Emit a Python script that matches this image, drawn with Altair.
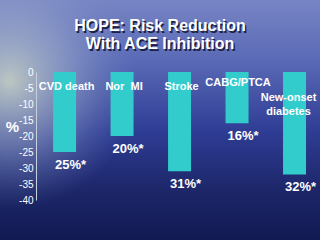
import altair as alt
import pandas as pd

categories = ["CVD death", "Nor\u00a0\u00a0MI", "Stroke", "CABG/PTCA", "New-onset diabetes"]
values = [-25, -20, -31, -16, -32]
value_labels = ["25%*", "20%*", "31%*", "16%*", "32%*"]
title_lines = ["HOPE: Risk Reduction", "With ACE Inhibition"]
y_ticks = [0, -5, -10, -15, -20, -25, -30, -35, -40]

df = pd.DataFrame({"cat": categories, "val": values, "lab": value_labels})
FONT = "Liberation Sans"

xscale = alt.Scale(domain=categories, paddingInner=0.6, paddingOuter=0.27, align=0.55)
X = alt.X("cat:N", scale=xscale, axis=None, sort=categories)
yscale = alt.Scale(domain=[-40, 0], nice=False)
yaxis = alt.Axis(values=y_ticks, labelExpr="toString(datum.value)",
                 labelOverlap=False, labelFlush=False, labelBound=False,
                 grid=False, ticks=False, zindex=1,
                 domainColor="#c8d0e0", domainWidth=1,
                 labelColor="white", labelFont=FONT, labelFontSize=10,
                 labelPadding=3,
                 title="%", titleAngle=0, titleColor="white",
                 titleFont=FONT, titleFontSize=15, titleFontWeight="bold",
                 titleX=-24, titleY=62, titleAlign="center")
Y = alt.Y("val:Q", scale=yscale, axis=yaxis)

base = alt.Chart(df)

bg = alt.Chart(pd.DataFrame({"k": [0]})).mark_rect(
    color=alt.Gradient(
        gradient="linear", x1=0, x2=0, y1=0, y2=1,
        stops=[alt.GradientStop(color="#7884c4", offset=0),
               alt.GradientStop(color="#5a6ab6", offset=0.25),
               alt.GradientStop(color="#2e3c94", offset=0.55),
               alt.GradientStop(color="#1c2668", offset=0.8),
               alt.GradientStop(color="#121a52", offset=1)])
).encode(x=alt.value(-36), x2=alt.value(284), y=alt.value(-72), y2=alt.value(168))

glow = alt.Chart(pd.DataFrame({"k": [0]})).mark_rect(
    color=alt.Gradient(
        gradient="radial", x1=0.03, y1=0.38, r1=0, x2=0.03, y2=0.38, r2=0.4,
        stops=[alt.GradientStop(color="rgba(215,225,200,0.8)", offset=0),
               alt.GradientStop(color="rgba(170,185,205,0.45)", offset=0.5),
               alt.GradientStop(color="rgba(120,140,200,0)", offset=1)])
).encode(x=alt.value(-36), x2=alt.value(284), y=alt.value(-72), y2=alt.value(168))

bars = base.mark_bar(color="#33cccc").encode(x=X, y=Y)

vlabels = base.mark_text(color="white", font=FONT, fontSize=13, fontWeight="bold",
                         baseline="middle", dy=13, dx=6).encode(
    x=X, y=Y, text="lab:N")

def catlabel(names, yv, **kw):
    d = df[df["cat"].isin(names)]
    return alt.Chart(d).mark_text(color="white", font=FONT, fontSize=11,
                                  fontWeight="bold", baseline="middle", **kw).encode(
        x=X, y=alt.value(yv), text="cat:N")

c1 = catlabel(categories[:3], 15, dx=2)
c2 = catlabel([categories[3]], 11, dx=1)
c3 = alt.Chart(df[df["cat"] == categories[4]]).mark_text(
    color="white", font=FONT, fontSize=11, fontWeight="bold", baseline="middle",
    lineBreak=" ", lineHeight=14, dx=-6).encode(
    x=X, y=alt.value(26), text="cat:N")

title_text = "|".join(title_lines)
title_shadow = alt.Chart(pd.DataFrame({"t": [title_text]})).mark_text(
    color="#1c2244", font=FONT, fontSize=16, fontWeight="bold", baseline="middle",
    lineBreak="|", lineHeight=18).encode(
    x=alt.value(160 - 36 + 1.5), y=alt.value(26 - 72 + 1.5), text="t:N")
title_main = alt.Chart(pd.DataFrame({"t": [title_text]})).mark_text(
    color="white", font=FONT, fontSize=16, fontWeight="bold", baseline="middle",
    lineBreak="|", lineHeight=18).encode(
    x=alt.value(160 - 36), y=alt.value(26 - 72), text="t:N")

chart = alt.layer(bg, glow, bars, vlabels, c1, c2, c3, title_shadow, title_main).properties(
    width=284, height=128,
    autosize=alt.AutoSizeParams(type="none"),
    padding={"left": 36, "top": 72, "right": 0, "bottom": 40},
    background="#1c2a78",
).configure_view(stroke=None)

chart.save("out.html", embed_options={"renderer": "svg", "actions": False})
